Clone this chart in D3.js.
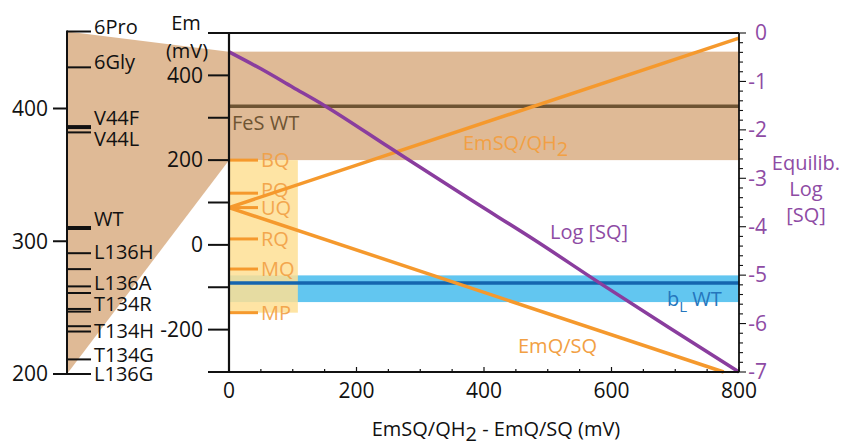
<!DOCTYPE html>
<html><head><meta charset="utf-8">
<script src="https://cdn.jsdelivr.net/npm/d3@7"></script>
<style>body{margin:0;background:#fff}svg{display:block;font-family:"Open Sans",sans-serif}</style>
</head><body>
<svg id="c" width="843" height="446"></svg>
<script>
// ---------- data ----------
const mutantNames = ["6Pro","6Gly","V44F","V44L","WT","L136H","","L136A","T134R","","","T134H","","T134G","L136G"];
const mutantEm    = [458, 431, 386, 382, 310, 291, 279, 266, 261, 249, 247, 236, 232, 211, 200];
const mutantTicks = [400, 300, 200];

const quinoneNames = ["BQ","PQ","UQ","RQ","MQ","MP"];
const quinoneEm    = [200, 122, 88, 14, -57, -160];

const xTicks = [0, 200, 400, 600, 800];
const emTicks = [400, 200, 0, -200];
const logTicks = [0, -1, -2, -3, -4, -5, -6, -7];

const fesBand = [200, 456];       // mV
const fesWT = 327;                // mV
const blBand = [-135, -72];       // mV
const blWT = -90;                 // mV
const quinoneBox = [0, 108];      // mV on x

const emSQQH2 = [[0, 88], [800, 488]];
const emQSQ   = [[0, 88], [776, -300]];
const logSQ   = [[0,-0.39],[50,-0.74],[100,-1.12],[150,-1.5],[250,-2.35],[380,-3.45],[480,-4.28],[580,-5.15],[690,-6.08],[800,-7]];

// ---------- layout ----------
const svg = d3.select("#c");
const x = d3.scaleLinear().domain([0, 800]).range([229, 739]);
const y = d3.scaleLinear().domain([-300, 500]).range([372, 33]);
const yLog = d3.scaleLinear().domain([-7, 0]).range([372, 33]);
const yMut = d3.scaleLinear().domain([200, 400]).range([374, 108.5]);
const mutX = 67;

const C = {tan:"#dfba96", brown:"#6e5433", yellow:"#fedf94", lblue:"#62c6f0", dblue:"#1565ae",
           orange:"#f5992d", orangeText:"#f2a044", purple:"#8a3d9e", purpleText:"#8e4ba4", blueText:"#2576bd"};

// tan projection polygon
svg.append("path")
  .attr("d", d3.line()([[mutX, yMut(mutantEm[0])], [x(0), y(fesBand[1])], [x(0), y(fesBand[0])], [mutX, yMut(200)]]))
  .attr("fill", C.tan);
// tan band
svg.append("rect").attr("x", x(0)).attr("width", x(800)-x(0))
  .attr("y", y(fesBand[1])).attr("height", y(fesBand[0]) - y(fesBand[1])).attr("fill", C.tan);

// blue band
svg.append("rect").attr("x", x(0)).attr("width", x(800)-x(0))
  .attr("y", y(blBand[1])).attr("height", y(blBand[0]) - y(blBand[1])).attr("fill", C.lblue);

// yellow quinone box
svg.append("rect").attr("x", x(quinoneBox[0])).attr("width", x(quinoneBox[1]) - x(quinoneBox[0]))
  .attr("y", y(quinoneEm[0])).attr("height", y(quinoneEm[quinoneEm.length-1]) - y(quinoneEm[0]))
  .attr("fill", C.yellow).attr("opacity", 0.85);

// FeS WT line
svg.append("line").attr("x1", x(0)).attr("x2", x(800)).attr("y1", y(fesWT)).attr("y2", y(fesWT))
  .attr("stroke", C.brown).attr("stroke-width", 3.5);
// bL WT line
svg.append("line").attr("x1", x(0)).attr("x2", x(800)).attr("y1", y(blWT)).attr("y2", y(blWT))
  .attr("stroke", C.dblue).attr("stroke-width", 3.5);

// quinone ticks + labels
quinoneNames.forEach((n, i) => {
  svg.append("line").attr("x1", x(0)).attr("x2", 258).attr("y1", y(quinoneEm[i])).attr("y2", y(quinoneEm[i]))
    .attr("stroke", C.orange).attr("stroke-width", 3);
  svg.append("text").attr("x", 261).attr("y", y(quinoneEm[i]) + (n === "PQ" ? -3 : 0)).attr("dy", "0.35em")
    .attr("font-size", 20).attr("fill", C.orangeText).attr("opacity", 0.9).text(n);
});

// orange Em lines
const lineMV = d3.line().x(d => x(d[0])).y(d => y(d[1]));
[emSQQH2, emQSQ].forEach(pts => {
  svg.append("path").attr("d", lineMV(pts)).attr("fill", "none")
    .attr("stroke", C.orange).attr("stroke-width", 3.5);
});

// purple log[SQ]
svg.append("path").attr("d", d3.line().x(d => x(d[0])).y(d => yLog(d[1])).curve(d3.curveMonotoneX)(logSQ))
  .attr("fill", "none").attr("stroke", C.purple).attr("stroke-width", 3.5);

// ---------- main frame & axes ----------
const ax = svg.append("g").attr("stroke", "#111").attr("fill", "none");
ax.append("line").attr("x1", 208).attr("x2", x(800)).attr("y1", y(500)).attr("y2", y(500)).attr("stroke-width", 2.2);
ax.append("line").attr("x1", 208).attr("x2", x(800)).attr("y1", y(-300)).attr("y2", y(-300)).attr("stroke-width", 2.2);
ax.append("line").attr("x1", x(0)).attr("x2", x(0)).attr("y1", y(500)).attr("y2", y(-300)).attr("stroke-width", 2.2);
ax.append("line").attr("x1", x(800)).attr("x2", x(800)).attr("y1", y(500)).attr("y2", y(-300)).attr("stroke-width", 1.8);

// left Em ticks every 100
d3.range(-200, 500, 100).forEach(v => {
  ax.append("line").attr("x1", 208).attr("x2", x(0)).attr("y1", y(v)).attr("y2", y(v)).attr("stroke-width", 2);
});
emTicks.forEach(v => {
  svg.append("text").attr("x", 203).attr("y", y(v)).attr("dy", "0.35em").attr("text-anchor", "end")
    .attr("font-size", 21).attr("fill", "#111").text(v);
});

// x ticks
d3.range(0, 801, 50).forEach(v => {
  ax.append("line").attr("x1", x(v)).attr("x2", x(v)).attr("y1", y(-300)).attr("y2", y(-300) - (v % 200 === 0 ? 5 : 3)).attr("stroke-width", 1.2);
});
xTicks.forEach(v => {
  svg.append("text").attr("x", x(v)).attr("y", 391).attr("dy", "0.35em").attr("text-anchor", "middle")
    .attr("font-size", 21).attr("fill", "#111").text(v);
});

// right log axis
d3.range(0, 36).forEach(k => {
  const v = -k * 0.2;
  ax.append("line").attr("x1", x(800)).attr("x2", x(800) + (k % 5 === 0 ? 7 : 4))
    .attr("y1", yLog(v)).attr("y2", yLog(v)).attr("stroke-width", 1.1);
});
logTicks.forEach(v => {
  svg.append("text").attr("x", 767).attr("y", yLog(v)).attr("dy", "0.35em").attr("text-anchor", "end")
    .attr("font-size", 21).attr("fill", C.purpleText).text(v === 0 ? "0" : "-" + Math.abs(v));
});

// mutant scale
ax.append("line").attr("x1", mutX).attr("x2", mutX).attr("y1", yMut(mutantEm[0]) - 1).attr("y2", yMut(200) + 1).attr("stroke-width", 2);
mutantTicks.forEach(v => {
  ax.append("line").attr("x1", 53).attr("x2", mutX).attr("y1", yMut(v)).attr("y2", yMut(v)).attr("stroke-width", 2);
  svg.append("text").attr("x", 48).attr("y", yMut(v)).attr("dy", "0.35em").attr("text-anchor", "end")
    .attr("font-size", 21).attr("fill", "#111").text(v);
});
const thick = new Set(["V44F", "WT"]);
const labelNudge = {"6Pro": -5, "6Gly": -5, "V44F": -9, "V44L": 7, "WT": -9, "L136H": -1, "L136A": -3, "T134R": 11, "T134H": 5, "T134G": -4, "L136G": 0};
mutantNames.forEach((n, i) => {
  ax.append("line").attr("x1", mutX).attr("x2", 91).attr("y1", yMut(mutantEm[i])).attr("y2", yMut(mutantEm[i]))
    .attr("stroke-width", thick.has(n) ? 4 : 2);
  if (n) {
    svg.append("text").attr("x", 94).attr("y", yMut(mutantEm[i]) + labelNudge[n]).attr("dy", "0.35em")
      .attr("font-size", 20).attr("fill", "#111").text(n);
  }
});

// ---------- labels ----------
const em = svg.append("text").attr("font-size", 20).attr("fill", "#111").attr("text-anchor", "middle");
em.append("tspan").attr("x", 186).attr("y", 30).text("Em");
em.append("tspan").attr("x", 187).attr("y", 58).text("(mV)");

svg.append("text").attr("x", 232).attr("y", 130).attr("font-size", 20).attr("fill", C.brown).text("FeS WT");

const t1 = svg.append("text").attr("x", 463).attr("y", 150).attr("font-size", 20).attr("fill", C.orangeText);
t1.append("tspan").text("EmSQ/QH");
t1.append("tspan").attr("dy", 6).text("2");

svg.append("text").attr("x", 550).attr("y", 239).attr("font-size", 20).attr("fill", C.purpleText).text("Log [SQ]");
svg.append("text").attr("x", 518).attr("y", 353).attr("font-size", 20).attr("fill", C.orangeText).text("EmQ/SQ");

const bl = svg.append("text").attr("x", 667).attr("y", 306).attr("font-size", 20).attr("fill", C.blueText);
bl.append("tspan").text("b");
bl.append("tspan").attr("dy", 6).attr("font-size", 15).text("L");
bl.append("tspan").attr("dy", -6).text(" WT");

const eq = svg.append("text").attr("font-size", 20).attr("fill", C.purpleText).attr("text-anchor", "middle");
eq.append("tspan").attr("x", 806).attr("y", 170).text("Equilib.");
eq.append("tspan").attr("x", 806).attr("y", 196).text("Log");
eq.append("tspan").attr("x", 806).attr("y", 222).text("[SQ]");

const xt = svg.append("text").attr("x", 496).attr("y", 436).attr("font-size", 20).attr("fill", "#111").attr("text-anchor", "middle");
xt.append("tspan").text("EmSQ/QH");
xt.append("tspan").attr("dy", 5).text("2");
xt.append("tspan").attr("dy", -5).text(" - EmQ/SQ (mV)");
</script>
</body></html>
